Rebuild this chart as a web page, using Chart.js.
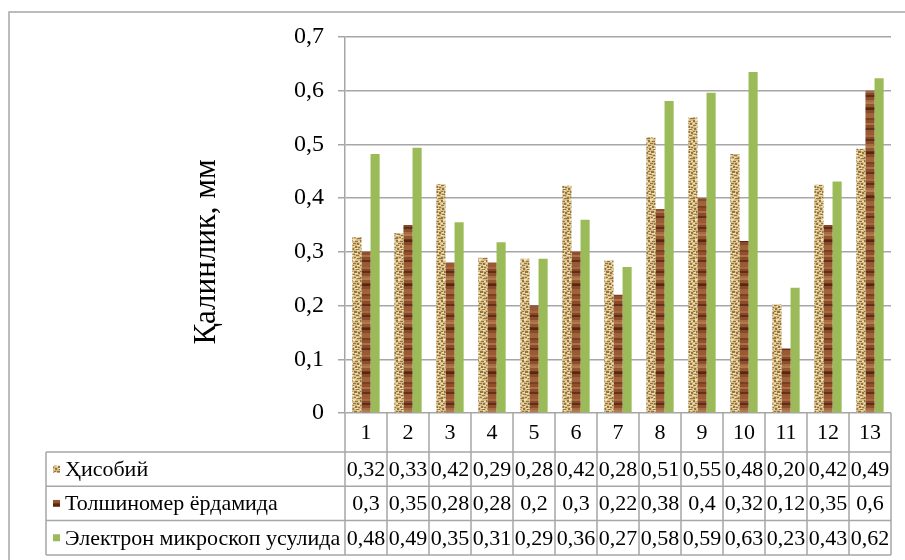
<!DOCTYPE html>
<html>
<head>
<meta charset="utf-8">
<script src="https://cdn.jsdelivr.net/npm/chart.js@4"></script>
<style>
  body { margin: 0; background: #fff; }
  #wrap { width: 905px; height: 560px; }
</style>
</head>
<body>
<div id="wrap"><canvas id="chartThickness" width="905" height="560"></canvas></div>
<script>
// данные
const categories = ['1', '2', '3', '4', '5', '6', '7', '8', '9', '10', '11', '12', '13']
const seriesNames = ['Ҳисобий', 'Толшиномер ёрдамида', 'Электрон микроскоп усулида']
const hisobiy = [0.327, 0.335, 0.426, 0.289, 0.287, 0.423, 0.284, 0.513, 0.550, 0.482, 0.202, 0.425, 0.492]
const tolshinomer = [0.3, 0.35, 0.28, 0.28, 0.2, 0.3, 0.22, 0.38, 0.4, 0.32, 0.12, 0.35, 0.6]
const elektron = [0.482, 0.494, 0.355, 0.318, 0.287, 0.360, 0.272, 0.581, 0.596, 0.635, 0.233, 0.431, 0.623]
// подписи в таблице под графиком
const hisobiyLabels = ['0,32', '0,33', '0,42', '0,29', '0,28', '0,42', '0,28', '0,51', '0,55', '0,48', '0,20', '0,42', '0,49']
const tolshinomerLabels = ['0,3', '0,35', '0,28', '0,28', '0,2', '0,3', '0,22', '0,38', '0,4', '0,32', '0,12', '0,35', '0,6']
const elektronLabels = ['0,48', '0,49', '0,35', '0,31', '0,29', '0,36', '0,27', '0,58', '0,59', '0,63', '0,23', '0,43', '0,62']
const yMax = 0.7
const yStep = 0.1
const yTitle = 'Қалинлик, мм'

const lineColor = '#a6a6a6'
const fontFamily = '"Liberation Serif", "Times New Roman", serif'

// текстуры столбиков
function makeTan() {
    const c = document.createElement('canvas')
    c.width = 9; c.height = 20
    const g = c.getContext('2d')
    g.fillStyle = '#d6bb84'
    g.fillRect(0, 0, 9, 20)
    g.fillStyle = '#93733f'
    ;[[0,0,2,2],[4,1,4,1],[2,3,3,1],[6,3,2,2],[0,5,3,1],[4,6,2,2],[7,7,2,1],[1,8,2,2],[5,9,3,1],
      [0,11,2,1],[3,11,3,2],[7,12,2,2],[1,14,3,1],[5,15,3,1],[0,17,2,2],[3,17,2,1],[6,18,3,1]]
        .forEach(m => g.fillRect(m[0], m[1], m[2], m[3]))
    g.fillStyle = '#f2e2b2'
    ;[[2,0,2,1],[7,1,2,1],[0,3,2,1],[6,5,3,1],[2,6,2,1],[4,8,3,1],[0,9,1,1],[6,10,2,1],[1,12,2,1],
      [4,13,3,1],[0,15,3,1],[5,17,2,1],[2,19,3,1]]
        .forEach(m => g.fillRect(m[0], m[1], m[2], m[3]))
    return g.createPattern(c, 'repeat')
}
function makeBrown() {
    const c = document.createElement('canvas')
    c.width = 9; c.height = 44
    const g = c.getContext('2d')
    const bands = [['#9a5a34', 3], ['#a8683e', 2], ['#86482a', 2], ['#5e2e16', 2], ['#8c4e2c', 3], ['#a66c42', 2],
                   ['#b07a4c', 2], ['#94562f', 3], ['#6c3619', 1], ['#552812', 2], ['#884a28', 3], ['#a06038', 2],
                   ['#9e643c', 3], ['#7a4020', 2], ['#934f2c', 3], ['#aa7046', 2], ['#8a4c2a', 3], ['#643018', 2], ['#985834', 2]]
    let y = 0
    bands.forEach(b => { g.fillStyle = b[0]; g.fillRect(0, y, 9, b[1]); y += b[1] })
    return g.createPattern(c, 'repeat')
}
const tanPattern = makeTan()
const brownPattern = makeBrown()
const greenColor = '#9bbb59'
const seriesFills = [tanPattern, brownPattern, greenColor]

// таблица данных под осью, заголовок оси и рамка
const dataTablePlugin = {
    id: 'dataTable',
    afterDraw(chart) {
        const { ctx, chartArea } = chart
        const xs = chart.scales.x
        const top = chartArea.bottom
        const headBottom = top + 39
        const rowH = 34.3
        const tableLeft = 46
        const right = chartArea.right
        const half = (xs.getPixelForValue(1) - xs.getPixelForValue(0)) / 2
        const bounds = categories.map((c, i) => xs.getPixelForValue(i) - half)
        bounds.push(xs.getPixelForValue(categories.length - 1) + half)

        ctx.save()
        ctx.strokeStyle = lineColor
        ctx.lineWidth = 1.5
        ctx.beginPath()
        ctx.moveTo(9, 600); ctx.lineTo(9, 12); ctx.lineTo(920, 12)
        ctx.stroke()

        ctx.beginPath()
        bounds.forEach(b => { ctx.moveTo(b, top); ctx.lineTo(b, headBottom + rowH * 3) })
        ctx.moveTo(tableLeft, headBottom); ctx.lineTo(tableLeft, headBottom + rowH * 3)
        for (let r = 0; r <= 3; r++) {
            ctx.moveTo(tableLeft, headBottom + rowH * r); ctx.lineTo(right, headBottom + rowH * r)
        }
        ctx.stroke()

        // заголовок оси Y
        ctx.fillStyle = '#000'
        ctx.save()
        ctx.translate(207, 252)
        ctx.rotate(-Math.PI / 2)
        ctx.textAlign = 'center'
        ctx.textBaseline = 'middle'
        ctx.font = '31px ' + fontFamily
        ctx.fillText(yTitle, 0, 0)
        ctx.restore()

        ctx.textBaseline = 'middle'
        ctx.textAlign = 'center'
        ctx.font = '22px ' + fontFamily
        categories.forEach((c, i) => ctx.fillText(c, xs.getPixelForValue(i), (top + headBottom) / 2 + 1))

        const rows = [hisobiyLabels, tolshinomerLabels, elektronLabels]
        rows.forEach((labels, r) => {
            const cy = headBottom + rowH * r + rowH / 2 + 1
            ctx.textAlign = 'center'
            labels.forEach((t, i) => ctx.fillText(t, xs.getPixelForValue(i), cy))
            ctx.fillStyle = seriesFills[r]
            ctx.fillRect(53, cy - 4.5, 7, 7)
            ctx.fillStyle = '#000'
            ctx.textAlign = 'left'
            ctx.fillText(seriesNames[r], 65, cy)
        })
        ctx.restore()
    }
}

new Chart(document.getElementById('chartThickness'), {
    type: 'bar',
    data: {
        labels: categories,
        datasets: [
            { label: seriesNames[0], data: hisobiy, backgroundColor: tanPattern },
            { label: seriesNames[1], data: tolshinomer, backgroundColor: brownPattern },
            { label: seriesNames[2], data: elektron, backgroundColor: greenColor }
        ]
    },
    options: {
        responsive: false,
        animation: false,
        devicePixelRatio: 1,
        categoryPercentage: 0.65,
        barPercentage: 1,
        layout: { padding: { left: 0, top: 37, right: 14, bottom: 147 } },
        plugins: { legend: { display: false }, tooltip: { enabled: false } },
        scales: {
            x: { display: false },
            y: {
                min: 0,
                max: yMax,
                afterFit: axis => { axis.width = 345 },
                border: { color: lineColor, width: 1.5 },
                grid: { color: lineColor, lineWidth: 1.5, tickLength: 7 },
                ticks: {
                    stepSize: yStep,
                    padding: 14,
                    color: '#000',
                    font: { family: fontFamily, size: 24 },
                    callback: v => v === 0 ? '0' : v.toFixed(1).replace('.', ',')
                }
            }
        }
    },
    plugins: [dataTablePlugin]
})
</script>
</body>
</html>
